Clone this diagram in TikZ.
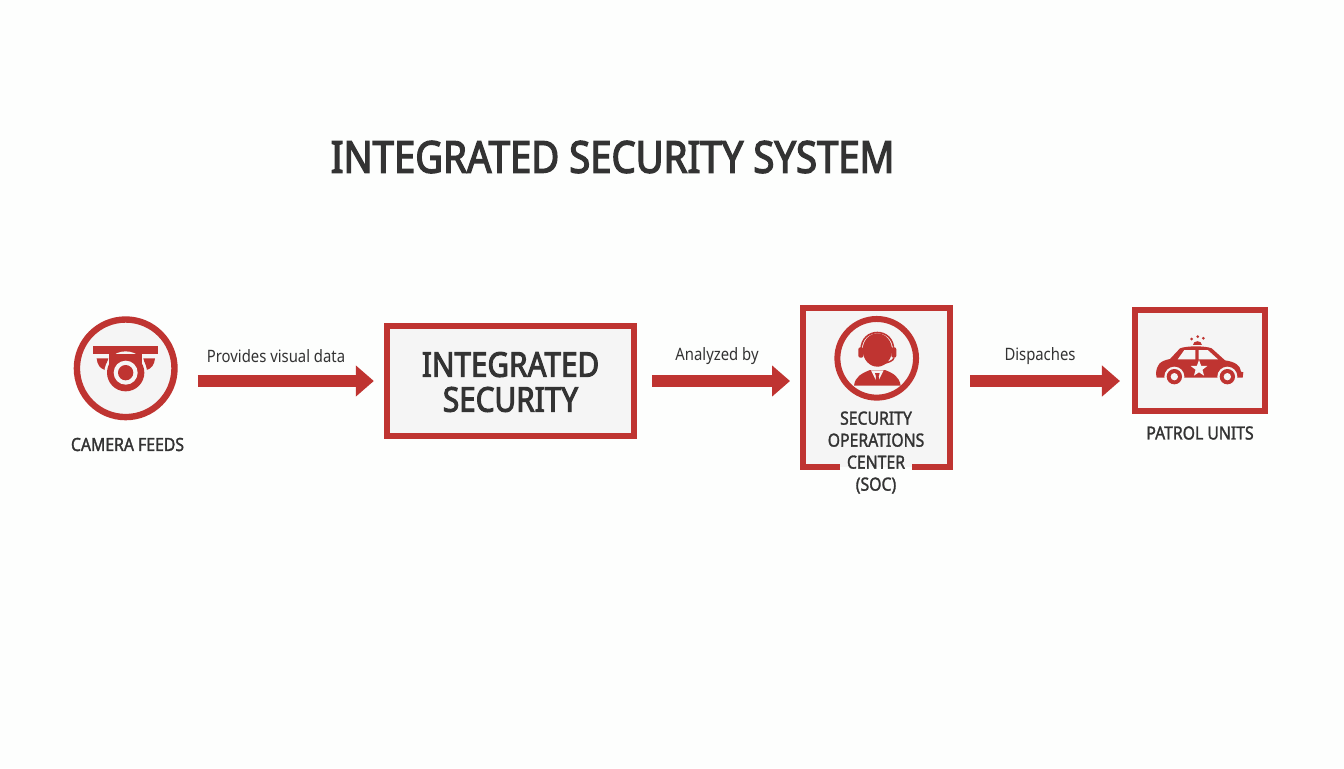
\documentclass[tikz,border=0pt]{standalone}
\usepackage{fontspec}
\usetikzlibrary{arrows.meta,shapes.geometric}
\setmainfont{Noto Sans}
\definecolor{brick}{HTML}{BF3431}
\definecolor{ink}{HTML}{333333}
\definecolor{panel}{HTML}{F5F5F5}
\definecolor{paper}{HTML}{FDFEFD}
\newfontfamily\titlefont[FakeStretch=0.87,FakeBold=3]{Noto Sans}
\newfontfamily\namefont[FakeStretch=0.87,FakeBold=1.6]{Noto Sans}
\newfontfamily\labelfont[FakeStretch=0.87]{Noto Sans}
\tikzset{
  x=0.75pt,y=-0.75pt,
  boxframe/.style={draw=brick,line width=4.4pt,fill=panel,rectangle,inner sep=0pt,outer sep=0pt},
  discframe/.style={draw=brick,line width=4.8pt,fill=panel,circle,inner sep=0pt,outer sep=0pt},
  flowarrow/.style={draw=brick,line width=9pt,-{Triangle[length=13.5pt,width=22.5pt]}},
  edgelabel/.style={text=ink,font=\labelfont\fontsize{12.8}{15}\selectfont,inner sep=0pt},
  namelabel/.style={text=ink,font=\namefont\fontsize{13.6}{16.5}\selectfont,inner sep=0pt,align=center},
  iconred/.style={fill=brick,draw=none},
  iconcut/.style={fill=panel,draw=none},
}
\begin{document}
\begin{tikzpicture}
\useasboundingbox (0,0) rectangle (1344,768);
\fill[paper] (0,0) rectangle (1344,768);

\node[text=ink,font=\titlefont\fontsize{33}{36}\selectfont,inner sep=0pt] (title) at (612.5,157) {INTEGRATED SECURITY SYSTEM};

% nodes
\node[discframe,minimum size=73.2pt] (cam) at (125.7,368.3) {};
\node[boxframe,minimum width=185pt,minimum height=83pt] (int) at (510.5,381) {};
\node[text=ink,font=\titlefont\fontsize{25.6}{26.2}\selectfont,inner sep=0pt,align=center] (inttext) at (510.5,382) {INTEGRATED\\SECURITY};
\node[fill=panel,rectangle,minimum width=110.5pt,minimum height=119.5pt,inner sep=0pt,outer sep=0pt] (soc) at (876.7,387.5) {};
\node[boxframe,minimum width=97.5pt,minimum height=75.5pt] (patrol) at (1200.3,360.7) {};

% SOC frame with its gap for the text
\coordinate (socgapl) at (840,467);
\coordinate (socgapr) at (912,467);
\draw[brick,line width=4.4pt] (socgapl) -- (803,467) -- (803,308) -- (950.3,308) -- (950.3,467) -- (socgapr);

\node[namelabel] (camname) at (127.5,444.5) {CAMERA FEEDS};
\node[namelabel] (socname) at (876,452.5) {SECURITY\\OPERATIONS\\CENTER\\(SOC)};
\node[namelabel] (patrolname) at (1200,433) {PATROL UNITS};

% connectors
\draw[flowarrow,shorten <=17.6pt,shorten >=10pt] (cam.east |- int.west) -- (int.west);
\draw[flowarrow,shorten <=13.7pt,shorten >=9.75pt] (int.east) -- (soc.west |- int.east);
\draw[flowarrow,shorten <=14.8pt,shorten >=11.5pt] (soc.east |- int.east) -- (patrol.west |- int.east);
\node[edgelabel] (lab1) at (276,356) {Provides visual data};
\node[edgelabel] (lab2) at (717,356) {Analyzed by};
\node[edgelabel] (lab3) at (1040,356) {Dispaches};

% camera icon
\begin{scope}[shift={(60,300)},x=0.25pt,y=-0.25pt]
  \fill[iconred] (100,137) rectangle (295,163);
  \fill[iconred] (110,175) -- (145,175) -- (135,210) .. controls (120,205) and (112,195) .. cycle;
  \fill[iconred] (285,175) -- (250,175) -- (260,210) .. controls (275,205) and (283,195) .. cycle;
  \fill[iconcut] (197,218) circle (64);
  \fill[iconred] (197,218) circle (56);
  \fill[iconred] (147,163) rectangle (247,195);
  \fill[iconcut] (197,218) circle (36);
  \fill[iconred] (197,218) circle (23);
\end{scope}

% operator icon
\node[discframe,minimum size=59pt,line width=4.5pt] (socicon) at (876.7,358.3) {};
\begin{scope}[shift={(790,295)},x=0.25pt,y=-0.25pt]
  \fill[iconred] (262,165) ellipse (44 and 50);
  \draw[brick,line width=1.2pt] (213,165) .. controls (213,95) and (311,95) .. (311,165);
  \fill[iconred,rounded corners=1.5pt] (205,157) rectangle (220,188);
  \fill[iconred,rounded corners=1.5pt] (304,157) rectangle (319,188);
  \draw[brick,line width=1.1pt] (312,188) .. controls (310,198) and (295,203) .. (270,208);
  \fill[iconred] (267,208) circle (6);
  \fill[iconred] (192,272) .. controls (195,245) and (215,235) .. (240,225) -- (285,225) .. controls (310,235) and (328,245) .. (332,272) -- cycle;
  \fill[iconcut] (243,226) -- (262,264) -- (281,226) -- cycle;
  \fill[iconred] (255,234) -- (269,234) -- (266,245) -- (269,268) -- (255,268) -- (258,245) -- cycle;
\end{scope}

% patrol car icon
\begin{scope}[shift={(1120,295)},x=0.25pt,y=-0.25pt]
  \fill[iconred] (108,236) .. controls (110,210) and (118,198) .. (150,192) -- (180,160) .. controls (200,152) and (255,152) .. (275,160) -- (315,196) .. controls (345,200) and (362,212) .. (363,230) -- (370,232) -- (368,248) -- (110,248) -- cycle;
  \fill[iconcut] (173,193) -- (193,165) -- (226,165) -- (226,193) -- cycle;
  \fill[iconcut] (236,165) -- (263,165) -- (294,193) -- (236,193) -- cycle;
  \node[star,star points=5,star point ratio=2.4,fill=panel,inner sep=0pt,minimum size=13pt] (carstar) at (237,221) {};
  \foreach \w/\nm in {163/a,322/b}{
    \fill[iconcut] (\w,245) circle (30);
    \fill[iconred] (\w,245) circle (23);
    \fill[iconcut] (\w,245) circle (11);
  }
  \fill[iconred] (219,151) .. controls (219,134) and (245,134) .. (245,151) -- cycle;
  \fill[iconred] (215,132) circle (4.5);
  \fill[iconred] (233,125) circle (4.5);
  \fill[iconred] (250,130) circle (4.5);
\end{scope}
\end{tikzpicture}
\end{document}
